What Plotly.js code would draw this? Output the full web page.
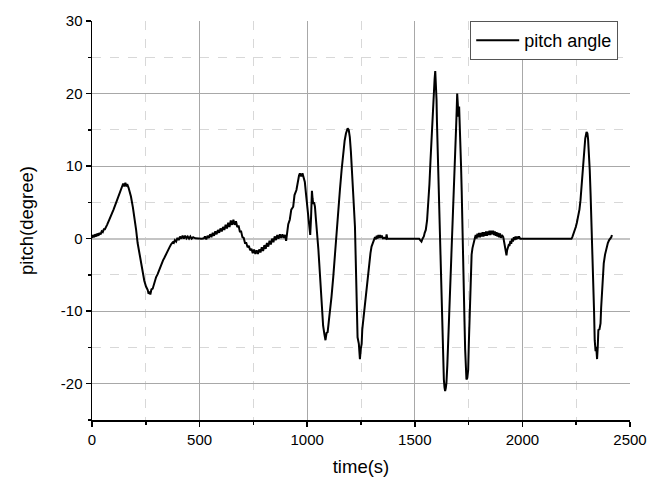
<!DOCTYPE html>
<html>
<head>
<meta charset="utf-8">
<script src="https://cdn.plot.ly/plotly-3.0.1.min.js"></script>
<style>html,body{margin:0;padding:0;background:#fff;}#chart{width:647px;height:479px;}</style>
</head>
<body>
<div id="chart"></div>
<script>
const seriesName = "pitch angle";
const xTitle = "time(s)";
const yTitle = "pitch(degree)";
const xTickVals = [0, 500, 1000, 1500, 2000, 2500];
const xTickText = ["0", "500", "1000", "1500", "2000", "2500"];
const yTickVals = [-20, -10, 0, 10, 20, 30];
const yTickText = ["-20", "-10", "0", "10", "20", "30"];

const time = [
0,5,10,15,20,25,30,35,40,45,50,55,60,65,70,80,90,100,110,120,130,140,145,150,155,160,165,170,
181,190,197,205,212,220,228,236,243,251,259,263,267,271,276,282,290,298,305,312,321,330,337,344,352,360,367,375,380,
385,391,397,403,409,415,421,427,433,439,445,451,457,463,470,480,490,500,510,520,
525,531,537,543,549,555,561,567,573,579,585,591,597,603,609,615,621,627,633,639,645,651,657,663,669,675,681,687,693,699,
705,711,717,723,729,735,741,747,753,759,765,771,777,783,789,795,801,807,813,819,825,831,837,843,849,855,861,867,873,879,885,891,897,902,906,
912,919,926,935,941,950,957,962,966,972,978,984,989,995,1002,1009,1014,1018,1022,1025,1028,1032,1036,1041,1047,1052,1056,1062,1067,1071,1074,1080,1085,1090,1095,1100,1105,1113,1121,1128,1136,1144,1152,1160,1167,1174,1180,1188,1193,1198,1203,1209,1215,1222,1226,1229,1232,1234,1240,1245,1249,1253,1256,1260,1266,1273,1280,1288,1294,1299,1305,1310,1315,1319,1323,1327,1331,1335,1339,1343,1347,1352,1360,1366,1369,1372,1385,1450,1520,
1525,1531,1536,1542,1546,1551,1557,1562,1568,1573,1577,1581,1585,1588,1592,1595,1598,1601,1603,1605,1607,1610,1613,1616,1619,1622,1626,1629,1632,1635,1638,1641,1644,1647,1651,1655,1660,1666,1671,1675,1680,1684,1688,1692,1695,1697,1700,1702,1704,1706,1709,1711,1713,1715,1718,1722,1725,1728,1731,1734,1737,1740,1744,1748,1751,1754,1757,1760,1764,1768,1773,1779,
1783,1787,1791,1795,1799,1803,1807,1811,1815,1819,1823,1827,1831,1835,1839,1843,1847,1851,1855,1859,1864,1868,1872,1876,1880,1884,1888,1892,1896,1900,1905,1911,1916,1920,1923,1926,1929,1932,1936,1940,1944,1948,1952,1956,1960,1964,1968,1972,1976,1980,1984,1990,2000,2100,2228,
2232,2236,2242,2248,2253,2259,2265,2270,2275,2279,2283,2287,2292,2298,2302,2305,2309,2313,2317,2321,2325,2329,2333,2336,2340,2343,2347,2350,2353,2358,2363,2366,2369,2374,2378,2384,2391,2397,2403,2409,2413,2416
];

const pitch = [
0.1,0.5,0.2,0.6,0.3,0.7,0.4,0.8,0.6,1.0,0.9,1.3,1.3,1.7,1.9,2.6,3.2,4.0,4.8,5.6,6.4,7.0,7.6,7.2,7.7,7.3,7.4,7.0,
5.8,4.3,3.1,1.2,-0.6,-2.0,-3.3,-4.6,-5.8,-6.6,-7.1,-7.6,-7.3,-7.7,-7.0,-6.9,-6.0,-5.3,-4.9,-4.3,-3.8,-3.0,-2.6,-2.1,-1.6,-1.2,-0.8,-0.5,-0.6,
-0.2,-0.4,0.1,-0.2,0.3,0.0,0.4,0.0,0.4,0.05,0.3,0.0,0.3,0.0,0.2,0.05,0,0,0,0.05,
0.3,-0.1,0.4,0.1,0.6,0.2,0.8,0.4,1.0,0.6,1.2,0.8,1.4,1.0,1.6,1.2,1.9,1.4,2.2,1.6,2.5,1.9,2.6,1.9,2.4,1.6,1.8,1.0,1.0,0.2,
0.1,-0.6,-0.6,-1.2,-1.0,-1.6,-1.4,-2.0,-1.5,-2.1,-1.6,-2.1,-1.5,-1.9,-1.2,-1.7,-0.9,-1.4,-0.6,-1.1,-0.3,-0.8,0.0,-0.5,0.3,-0.2,0.5,0.0,0.6,0.1,0.6,0.1,0.5,-0.3,0.6,
2.0,2.6,4.0,4.4,6.0,6.7,8.3,8.7,9.0,8.6,9.0,8.5,7.8,6.0,4.0,1.6,0.5,3.0,6.6,5.5,4.8,5.0,4.4,2.5,0.7,-1.5,-3.4,-6.5,-9,-11.5,-12,-13.2,-14,-13.0,-12.9,-11.5,-10.3,-8.0,-5.3,-2.3,1.1,4.0,6.7,9.5,11.7,13.5,14.5,15.2,15.0,14.0,12.0,9.4,5.5,1.6,-2.5,-6.2,-10,-13.6,-14.5,-16.6,-15.2,-14.5,-12.5,-11.3,-9.5,-7.6,-5.5,-3.4,-2.0,-1.1,-0.5,-0.2,0.2,-0.1,0.4,0.0,0.5,0.1,0.5,0.1,0.4,0.05,0.1,0.0,0.6,0.0,0,0,0,
-0.2,-0.4,0.0,0.3,0.8,1.2,2.5,4.4,7.5,10.8,13.5,16.3,18.3,20.0,22.0,23.1,21.5,19.1,16.0,13.6,12.5,10.8,7.0,3.0,-1.5,-6.1,-11,-14.4,-17.5,-19.4,-20.5,-21.0,-20.6,-19.9,-17.5,-14.4,-11,-7.1,-3.5,0.3,4.5,8.5,12.0,15.4,18.0,20.0,18.5,16.8,17.5,18.2,16.0,14.0,12.0,9.9,6.5,2.1,-2.5,-7.1,-11.5,-15.3,-17.5,-19.4,-19.2,-18.1,-14.5,-10.7,-7.0,-3.9,-2.2,-1.3,-0.5,0.05,
0.5,0.0,0.7,0.2,0.8,0.2,0.8,0.3,0.9,0.3,0.9,0.4,1.0,0.4,1.0,0.5,1.1,0.5,1.1,0.6,1.1,0.5,1.0,0.4,0.9,0.3,0.8,0.2,0.7,0.1,0.5,0.2,-0.6,-1.1,-1.8,-2.3,-1.6,-1.4,-0.9,-1.0,-0.3,-0.7,0.0,-0.4,0.2,-0.2,0.3,-0.1,0.3,0.0,0.3,0.0,0,0,0,
0.2,0.5,1.0,1.6,2.2,3.0,4.0,5.3,7.0,8.5,10.5,12.2,13.8,14.7,14.5,13.8,12.0,9.4,6.0,2.5,-1.5,-5.3,-10,-14.0,-15.5,-14.9,-16.6,-15.0,-12.6,-12.5,-11.7,-9.5,-7.4,-5.0,-3.4,-2.2,-1.1,-0.6,-0.2,0.0,0.2,0.5
];

const font = "Liberation Sans, Arial, sans-serif";

const trace = {
  x: time, y: pitch, type: "scatter", mode: "lines", name: seriesName,
  line: {color: "#000000", width: 2}
};

const axisCommon = {
  showline: true, linecolor: "#000000", linewidth: 1.5,
  ticks: "outside", ticklen: 5, tickwidth: 1.5, tickcolor: "#000000",
  showgrid: true, gridcolor: "#a8a8a8", gridwidth: 1,
  tickfont: {family: font, size: 15, color: "#000000"},
  mirror: false
};

const layout = {
  width: 647, height: 479,
  margin: {l: 92, r: 17, t: 21, b: 59},
  paper_bgcolor: "#ffffff", plot_bgcolor: "#ffffff",
  showlegend: true,
  legend: {
    x: 0.703, y: 1.0, xanchor: "left", yanchor: "top",
    bgcolor: "#ffffff", bordercolor: "#555555", borderwidth: 1,
    itemwidth: 43,
    font: {family: font, size: 18, color: "#000000"}
  },
  xaxis: Object.assign({}, axisCommon, {
    range: [0, 2500], tickmode: "array", tickvals: xTickVals, ticktext: xTickText, zeroline: false,
    minor: {dtick: 250, ticks: "outside", ticklen: 3, tickwidth: 1.5, tickcolor: "#000000",
            showgrid: true, gridcolor: "#d8d8d8", griddash: "dash", gridwidth: 1},
    title: {text: xTitle, font: {family: font, size: 18.5, color: "#000000"}, standoff: 13}
  }),
  yaxis: Object.assign({}, axisCommon, {
    range: [-25, 30], tickmode: "array", tickvals: yTickVals, ticktext: yTickText,
    zeroline: true, zerolinecolor: "#c4c4c4", zerolinewidth: 2,
    minor: {dtick: 5, ticks: "outside", ticklen: 3, tickwidth: 1.5, tickcolor: "#000000",
            showgrid: true, gridcolor: "#d8d8d8", griddash: "dash", gridwidth: 1},
    title: {text: yTitle, font: {family: font, size: 18.5, color: "#000000"}, standoff: 22}
  })
};

Plotly.newPlot("chart", [trace], layout, {displayModeBar: false, staticPlot: true});
</script>
</body>
</html>
